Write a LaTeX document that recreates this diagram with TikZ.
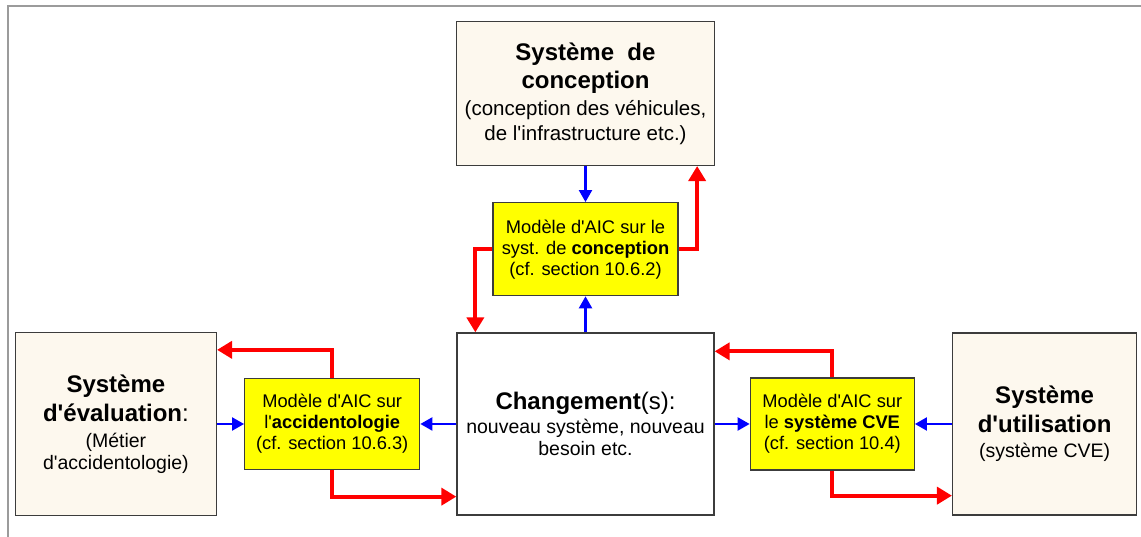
\documentclass[tikz,border=0pt]{standalone}
\usepackage{fontspec}
\setmainfont{Liberation Sans}[Ligatures=TeXOff]
\usepackage{xcolor}
\usetikzlibrary{arrows.meta, positioning}

\definecolor{creme}{RGB}{253,248,238}
\definecolor{aicjaune}{RGB}{255,255,0}
\definecolor{bordgris}{RGB}{60,60,60}
\definecolor{cadregris}{RGB}{155,155,155}

\newcommand{\titrefont}{\fontsize{24}{30}\selectfont\bfseries}

\begin{document}
\begin{tikzpicture}[
    x=1pt, y=1pt,
    sysbox/.style={
        rectangle,
        draw=bordgris,
        line width=1.3pt,
        fill=creme,
        align=center,
        inner sep=2pt,
        font=\fontsize{19.5}{22}\selectfont
    },
    aicbox/.style={
        rectangle,
        draw=bordgris,
        line width=1.3pt,
        fill=aicjaune,
        align=center,
        inner sep=2pt,
        font=\fontsize{18.3}{21}\selectfont
    },
    redarrow/.style={-{Triangle[length=15pt, width=17pt]}, line width=4pt, draw=red},
    bluearrow/.style={-{Triangle[length=12pt, width=13pt]}, line width=2.2pt, draw=blue}
]

\useasboundingbox (0,0) rectangle (1141,537);
\draw[cadregris, line width=2pt] (8,0) -- (8,531) -- (1141,531);

\node[sysbox, fill=white, minimum width=257pt, minimum height=182pt] (chg) at (585.5,113) {
    {\titrefont Changement}{\fontsize{24}{30}\selectfont(s):}\\[2pt]
    nouveau système, nouveau\\
    besoin etc.
};

\node[aicbox, above=36pt of chg, minimum width=185pt, minimum height=93pt] (mconc) {
    Modèle d'AIC sur le\\
    syst. de \textbf{conception}\\
    (cf. section 10.6.2)
};

\node[sysbox, above=36pt of mconc, minimum width=258pt, minimum height=144pt,
      font=\fontsize{20.5}{25}\selectfont] (conc) {
    {\titrefont Système\ \ de}\\[3pt]
    {\titrefont conception}\\[2pt]
    (conception des véhicules,\\
    de l'infrastructure etc.)
};

\node[aicbox, left=36pt of chg, minimum width=175pt, minimum height=91pt] (macc) {
    Modèle d'AIC sur\\
    l'\textbf{accidentologie}\\
    (cf. section 10.6.3)
};

\node[sysbox, left=27pt of macc, minimum width=201pt, minimum height=183pt] (eval) {
    {\titrefont Système}\\[5pt]
    {\titrefont d'évaluation}{\fontsize{24}{30}\selectfont:}\\[4pt]
    (Métier\\
    d'accidentologie)
};

\node[aicbox, right=35pt of chg, minimum width=164pt, minimum height=92pt] (mcve) {
    Modèle d'AIC sur\\
    le \textbf{système CVE}\\
    (cf. section 10.4)
};

\node[sysbox, right=37pt of mcve, minimum width=184pt, minimum height=182pt] (util) {
    {\titrefont Système}\\[6pt]
    {\titrefont d'utilisation}\\[3pt]
    (système CVE)
};

\draw[bluearrow] (conc.south -| mconc.north) -- (mconc.north);
\draw[bluearrow] (chg.north) -- (mconc.south);
\draw[bluearrow] (eval.east) -- (macc.west);
\draw[bluearrow] (chg.west) -- (macc.east);
\draw[bluearrow] (chg.east) -- (mcve.west);
\draw[bluearrow] (util.west) -- (mcve.east);

\draw[redarrow] (mconc.east) -| ([xshift=-18pt]conc.south east);
\draw[redarrow] (mconc.west) -| ([xshift=19pt]chg.north west);
\draw[redarrow] (macc.north) |- ([yshift=-18pt]eval.north east);
\draw[redarrow] (macc.south) |- ([yshift=19pt]chg.south west);
\draw[redarrow] (mcve.north) |- ([yshift=-19pt]chg.north east);
\draw[redarrow] (mcve.south) |- ([yshift=20pt]util.south west);

\end{tikzpicture}
\end{document}
